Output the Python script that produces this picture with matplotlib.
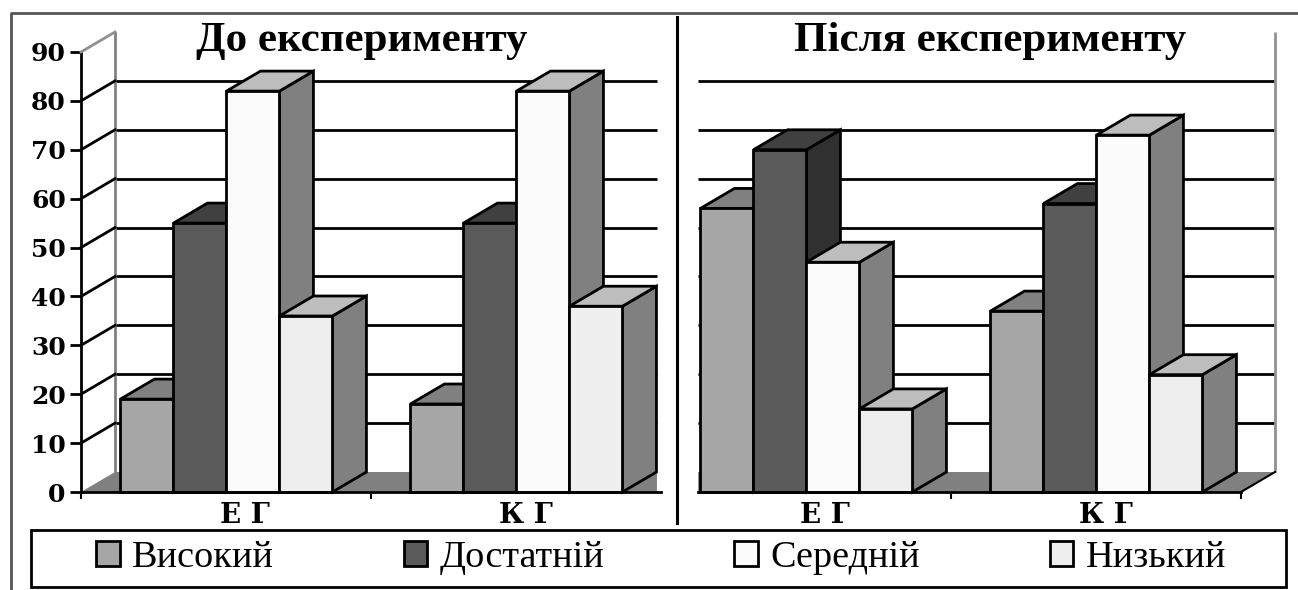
import matplotlib
matplotlib.use("Agg")
import matplotlib.pyplot as plt
from matplotlib.lines import Line2D
from matplotlib.patches import Patch, Polygon, Rectangle

W, H = 1298, 590

levels = ["Високий", "Достатній", "Середній", "Низький"]
groups = ["Е Г", "К Г"]
before_eg = [19, 55, 82, 36]
before_kg = [18, 55, 82, 38]
after_eg = [58, 70, 47, 17]
after_kg = [37, 59, 73, 24]
y_ticks = [0, 10, 20, 30, 40, 50, 60, 70, 80, 90]
grid_vals = [10, 20, 30, 40, 50, 60, 70, 80]

front = ["#a6a6a6", "#5a5a5a", "#fbfbfb", "#eeeeee"]
top = ["#808080", "#404040", "#bdbdbd", "#bdbdbd"]
side = ["#808080", "#303030", "#808080", "#808080"]

bar_w = 53 / 290
start = 0.136
dx = 34 / 290
dy = 20 / 4.89
LW = 2.0


def px_axes(x0, x1, y0, y1):
    return fig.add_axes([x0 / W, 1 - y0 / H, (x1 - x0) / W, (y0 - y1) / H])


def poly(ax, pts, color, z):
    ax.add_patch(Polygon(pts, closed=True, facecolor=color, edgecolor="black",
                         linewidth=LW, joinstyle="miter", zorder=z, clip_on=False))


def bars(ax, values, offset):
    for i, v in enumerate(values):
        x = offset + start + i * bar_w
        z = 5 + offset * 10 + i
        poly(ax, [(x + bar_w, 0), (x + bar_w + dx, dy), (x + bar_w + dx, v + dy), (x + bar_w, v)], side[i], z)
        poly(ax, [(x, v), (x + dx, v + dy), (x + bar_w + dx, v + dy), (x + bar_w, v)], top[i], z)
        poly(ax, [(x, 0), (x, v), (x + bar_w, v), (x + bar_w, 0)], front[i], z)


def setup(ax, title, title_x, ticks):
    ax.set_xlim(0, 2)
    ax.set_ylim(0, 90)
    ax.patch.set_visible(False)
    for s in ["top", "right", "left"]:
        ax.spines[s].set_visible(False)
    ax.spines["bottom"].set_linewidth(LW)
    ax.spines["bottom"].set_zorder(20)
    ax.set_xticks(ticks)
    ax.set_xticklabels([])
    ax.tick_params(axis="x", which="major", length=5, width=1.5, color="black")
    ax.set_xticks([0.565, 1.535], minor=True)
    ax.set_xticklabels(groups, minor=True, fontsize=20, family="DejaVu Serif", fontweight="bold")
    ax.tick_params(axis="x", which="minor", length=0, pad=7)
    ax.set_title(title, x=title_x, y=1.0, pad=1, fontsize=31, family="Liberation Serif", fontweight="bold")


fig = plt.figure(figsize=(W / 100, H / 100), dpi=100, facecolor="white")

# left panel
ax1 = px_axes(81, 661, 492, 52)
setup(ax1, "До експерименту", 0.484, [0, 1])
ax1.spines["left"].set_visible(True)
ax1.spines["left"].set_linewidth(LW)
ax1.set_yticks(y_ticks)
ax1.set_yticklabels([str(t) for t in y_ticks], fontsize=18, family="DejaVu Serif", fontweight="bold")
ax1.tick_params(axis="y", length=8, width=LW, pad=3)
right_end = 1.986
ax1.add_patch(Polygon([(0, 0), (dx, dy), (right_end, dy), (right_end, 0)], facecolor="#808080",
                      edgecolor="none", zorder=1, clip_on=False))
ax1.hlines([g + dy for g in grid_vals], dx, right_end, colors="black", linewidth=LW, zorder=2, clip_on=False)
ax1.vlines(dx, dy, 90 + dy, colors="#808080", linewidth=LW, zorder=2, clip_on=False)
for t in grid_vals:
    ax1.plot([0, dx], [t, t + dy], color="black", linewidth=LW, zorder=3, clip_on=False)
ax1.plot([0, dx], [90, 90 + dy], color="#909090", linewidth=LW, zorder=3, clip_on=False)
bars(ax1, before_eg, 0)
bars(ax1, before_kg, 1)

# right panel
ax2 = px_axes(661, 1241, 492, 52)
setup(ax2, "Після експерименту", 0.567, [1, 2])
ax2.set_yticks([])
left_end = 0.128
ax2.spines["bottom"].set_bounds(left_end, 2)
ax2.add_patch(Polygon([(left_end, 0), (left_end, dy), (2 + dx, dy), (2, 0)], facecolor="#808080",
                      edgecolor="none", zorder=1, clip_on=False))
ax2.hlines([g + dy for g in grid_vals], left_end, 2 + dx, colors="black", linewidth=LW, zorder=2, clip_on=False)
ax2.vlines(2 + dx, dy, 90 + dy, colors="#909090", linewidth=LW, zorder=2, clip_on=False)
ax2.plot([2, 2 + dx], [0, dy], color="black", linewidth=1.5, zorder=3, clip_on=False)
bars(ax2, after_eg, 0)
bars(ax2, after_kg, 1)

# outer frame, divider, legend box
fig.add_artist(Line2D([11 / W, 11 / W, 1], [0, 1 - 13 / H, 1 - 13 / H], color="#555555", linewidth=2))
fig.add_artist(Line2D([677 / W, 677 / W], [1 - 17 / H, 1 - 523 / H], color="black", linewidth=2.2))
fig.add_artist(Rectangle((31 / W, 1 - 587 / H), 1255 / W, 57 / H, facecolor="white", edgecolor="black",
                         linewidth=2, transform=fig.transFigure))

handles = [Patch(facecolor=c, edgecolor="black", linewidth=2) for c in front]
fig.legend(handles, levels, ncol=4, frameon=False, loc="center", bbox_to_anchor=(661 / W, 1 - 558 / H),
           prop={"family": "Liberation Serif", "size": 27.5}, handlelength=0.62, handleheight=0.62,
           handletextpad=0.32, columnspacing=3.4)

fig.savefig("out.png", dpi=100)
